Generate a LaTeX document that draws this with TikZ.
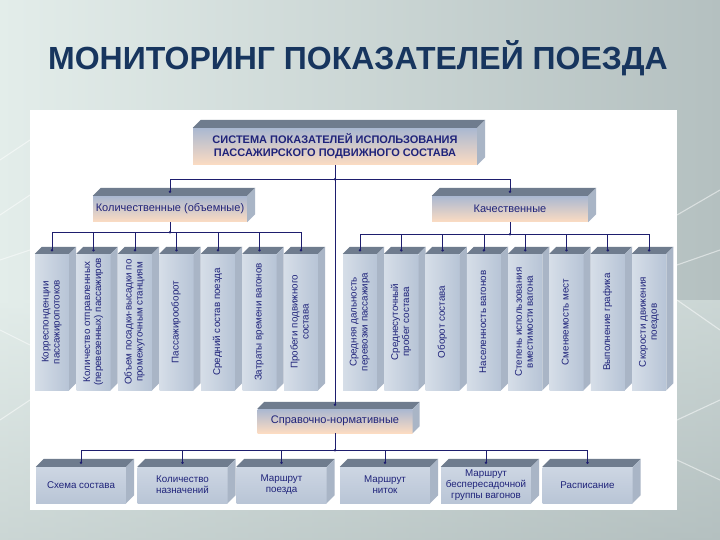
\documentclass[tikz,border=0pt]{standalone}
\usepackage{fontspec}
\setmainfont{Liberation Sans}
\usetikzlibrary{calc}
\definecolor{linec}{HTML}{1E1E6E}
\definecolor{txt}{HTML}{1F237A}
\definecolor{titlec}{HTML}{17355E}
\definecolor{topf}{HTML}{6F7C8E}
\definecolor{sidef}{HTML}{A9B5C6}
\definecolor{htop}{HTML}{AAB8D1}
\definecolor{hbot}{HTML}{FCDCC2}
\definecolor{vl}{HTML}{D6DEE8}
\definecolor{vr}{HTML}{B7C4D6}
\definecolor{btop}{HTML}{CDD6E3}
\definecolor{bbot}{HTML}{B9C5D6}
\definecolor{bgl}{HTML}{E3EDEA}
\definecolor{bgr}{HTML}{B4C0C0}
\newcommand\lblfont{\fontsize{9.8}{11}\selectfont}
\newcommand\hfont{\fontsize{11}{13}\selectfont}
\newcommand\boxfaces[2]{%
  \fill[topf] (#1.north west) -- ++(#2,-#2) -- ([shift={(#2,-#2)}]#1.north east) -- (#1.north east) -- cycle;
  \fill[sidef] (#1.north east) -- ++(#2,-#2) -- ([shift={(#2,-#2)}]#1.south east) -- (#1.south east) -- cycle;}
\tikzset{
  conn/.style={draw=linec, line width=0.8pt},
  hbox/.style={rectangle, inner sep=0pt, top color=htop, bottom color=hbot, text=txt, font=\hfont, align=center},
  vbox/.style={rectangle, inner sep=0pt, minimum width=34pt, minimum height=136pt, left color=vl, right color=vr, text=txt, font=\lblfont},
  bbox/.style={rectangle, inner sep=0pt, minimum width=90pt, minimum height=36pt, top color=btop, bottom color=bbot, text=txt, font=\lblfont, align=center},
  netline/.style={draw=white, line width=1.1pt, opacity=0.5}
}
\begin{document}
\begin{tikzpicture}[x=1pt,y=-1pt]
\useasboundingbox (0,0) rectangle (720,540);
\shade[left color=bgl, right color=bgr] (0,0) rectangle (720,540);
\shade[top color=bgl, bottom color=bgr, opacity=0.5] (0,300) rectangle (720,540);
% faint network decoration
\draw[netline] (0,160) -- (30,140);
\draw[netline] (0,215) -- (30,195);
\draw[netline] (0,260) -- (30,250);
\draw[netline] (0,330) -- (30,345);
\draw[netline] (0,420) -- (30,400);
\draw[netline] (677,215) -- (720,190);
\draw[netline] (677,265) -- (720,250);
\draw[netline] (677,300) -- (720,330);
\draw[netline] (677,420) -- (720,400);
\draw[netline] (677,460) -- (720,480);
\fill[white] (30,110) rectangle (677,510);

\node[font=\bfseries\fontsize{32}{38}\selectfont, text=titlec] (title) at (358,58) {МОНИТОРИНГ ПОКАЗАТЕЛЕЙ ПОЕЗДА};

% top box
\node[hbox, minimum width=284pt, minimum height=37pt, font=\bfseries\fontsize{11}{13}\selectfont] (sys) at (335,146.5) {СИСТЕМА ПОКАЗАТЕЛЕЙ ИСПОЛЬЗОВАНИЯ\\ПАССАЖИРСКОГО ПОДВИЖНОГО СОСТАВА};
\boxfaces{sys}{8}

% level 2
\node[hbox, minimum width=154pt, minimum height=26pt] (kol) at (170,209) {Количественные (объемные)};
\boxfaces{kol}{8}
\node[hbox, minimum width=156pt, minimum height=26pt] (kach) at (510,209) {Качественные};
\boxfaces{kach}{8}
\coordinate (kol-t) at ([yshift=4pt]kol.north);
\coordinate (kach-t) at ([yshift=4pt]kach.north);

% vertical boxes
\foreach \i/\x/\t in {
  1/52/{Корреспонденции\\пассажиропотоков},
  2/93.5/{Количество отправленных\\(перевезенных) пассажиров},
  3/135/{Объем посадки-высадки по\\промежуточным станциям},
  4/176.5/{Пассажирооборот},
  5/218/{Средний состав поезда},
  6/259.5/{Затраты времени вагонов},
  7/301/{Пробеги подвижного\\состава},
  8/360/{Средняя дальность\\перевозки пассажира},
  9/401.3/{Среднесуточный\\пробег состава},
  10/442.6/{Оборот состава},
  11/483.9/{Населенность вагонов},
  12/525.2/{Степень использования\\вместимости вагона},
  13/566.5/{Сменяемость мест},
  14/607.8/{Выполнение графика},
  15/649.1/{Скорости движения\\поездов}}{
  \node[vbox] (v\i) at (\x,322) {\rotatebox{90}{\begin{tabular}{@{}c@{}}\t\end{tabular}}};
  \boxfaces{v\i}{7}
  \coordinate (v\i-t) at ([yshift=3.5pt]v\i.north);
}

% reference box
\node[hbox, minimum width=155pt, minimum height=24pt] (spr) at (335,421) {Справочно-нормативные};
\boxfaces{spr}{7}
\coordinate (spr-t) at ([yshift=4pt]spr.north);

% bottom row
\foreach \i/\x/\t in {
  1/81/{Схема состава},
  2/182.5/{Количество\\назначений},
  3/281.5/{Маршрут\\поезда},
  4/385/{Маршрут\\ниток},
  5/486/{Маршрут\\беспересадочной\\группы вагонов},
  6/587.5/{Расписание}}{
  \node[bbox] (b\i) at (\x,485) {\t};
  \boxfaces{b\i}{8}
  \coordinate (b\i-t) at ([yshift=4pt]b\i.north);
}

% connectors
\coordinate (sysbus) at ($(sys.south)+(0,14)$);
\coordinate (kolbus) at ($(kol.south)+(0,10)$);
\coordinate (kachbus) at ($(kach.south)+(0,12)$);
\coordinate (sprbus) at ($(spr.south)+(0,17)$);

\draw[conn] (sys.south) -- (spr-t);
\draw[conn] (kol-t) |- (sysbus) -| (kach-t);

\draw[conn] (kol.south) -- (kolbus);
\draw[conn] (v1-t) |- (kolbus) -| (v7-t);
\foreach \i in {2,...,6} \draw[conn] (v\i-t) -- (v\i-t |- kolbus);

\draw[conn] (kach.south) -- (kachbus);
\draw[conn] (v8-t) |- (kachbus) -| (v15-t);
\foreach \i in {9,...,14} \draw[conn] (v\i-t) -- (v\i-t |- kachbus);

\draw[conn] (spr.south) -- (sprbus);
\draw[conn] (b1-t) |- (sprbus) -| (b6-t);
\foreach \i in {2,...,5} \draw[conn] (b\i-t) -- (b\i-t |- sprbus);

% dots
\foreach \c in {kol-t,kach-t,spr-t,sysbus,kolbus,kachbus,sprbus}
  \fill[linec] (\c) circle (1.4);
\foreach \i in {1,...,15} \fill[linec] (v\i-t) circle (1.4);
\foreach \i in {1,...,6} \fill[linec] (b\i-t) circle (1.4);
\end{tikzpicture}
\end{document}
